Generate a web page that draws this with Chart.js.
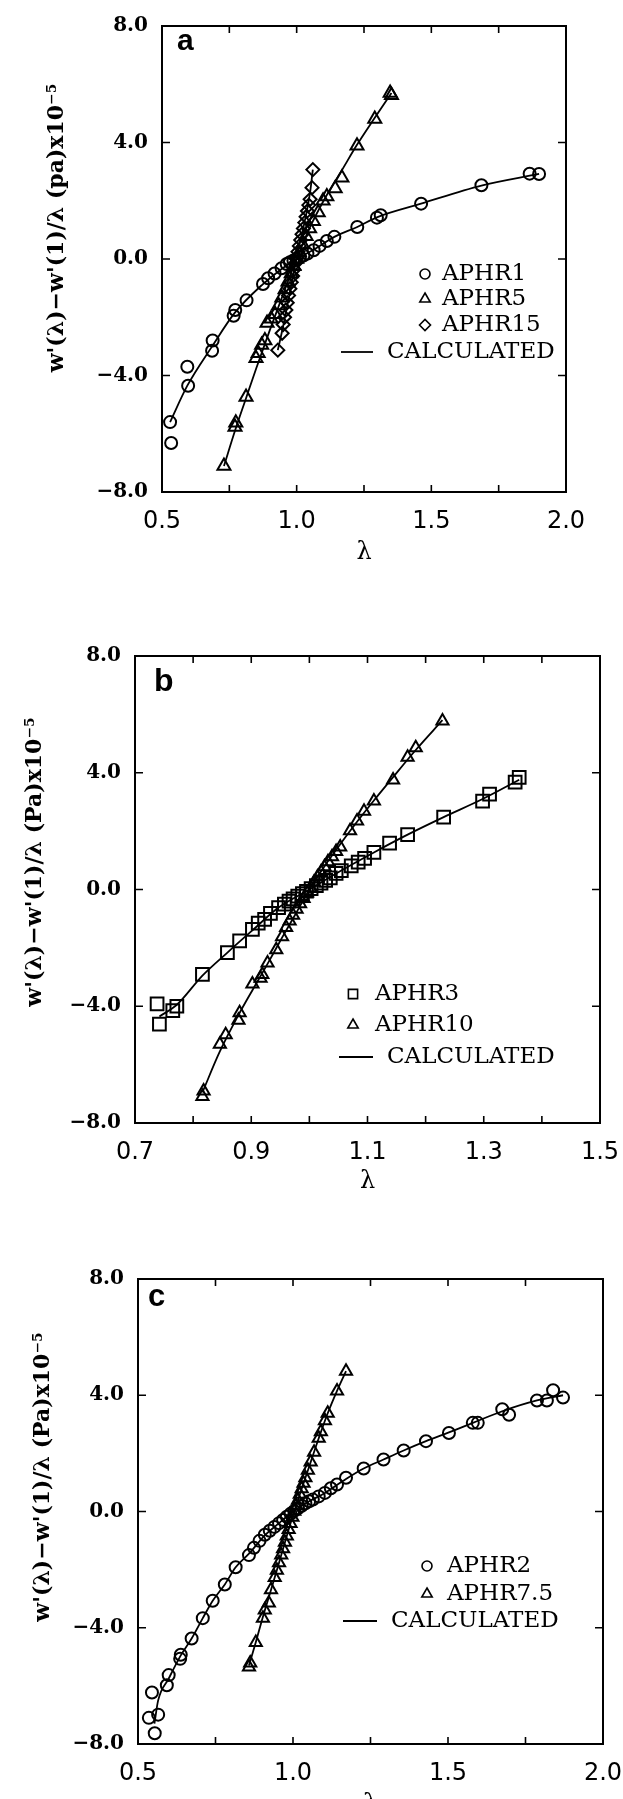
<!DOCTYPE html>
<html>
<head>
<meta charset="utf-8">
<script src="https://cdn.jsdelivr.net/npm/chart.js@4.4.1/dist/chart.umd.min.js"></script>
<style>
html, body { margin: 0; padding: 0; background: #fff; overflow: hidden; }
body { width: 623px; height: 1799px; position: relative; }
canvas { position: absolute; left: 0; }
</style>
</head>
<body>
<canvas id="chartA" width="623" height="600" style="top:0px;width:623px;height:600px"></canvas>
<canvas id="chartB" width="623" height="600" style="top:600px;width:623px;height:600px"></canvas>
<canvas id="chartC" width="623" height="630" style="top:1200px;width:623px;height:630px"></canvas>
<script>
// ---------- data ----------

// shared y axis
const yTickVals = [-8, -4, 0, 4, 8];
const yTickLabels = ["\u22128.0", "\u22124.0", "0.0", "4.0", "8.0"];

// panel a
const xTickValsA = [0.5, 1.0, 1.5, 2.0];
const xTickLabelsA = ["0.5", "1.0", "1.5", "2.0"];

const lamA1 = [0.530,0.534,0.594,0.597,0.686,0.688,0.766,0.772,0.814,0.875,0.894,0.918,0.944,0.963,0.975,0.988,1.000,1.012,1.025,1.040,1.063,1.085,1.112,1.140,1.225,1.298,1.312,1.462,1.686,1.865,1.900];
const wA1   = [-5.60,-6.32,-3.70,-4.35,-3.15,-2.80,-1.95,-1.75,-1.42,-0.86,-0.66,-0.50,-0.32,-0.17,-0.11,-0.05,0.00,0.06,0.12,0.19,0.30,0.45,0.62,0.76,1.10,1.42,1.50,1.90,2.53,2.93,2.92];

const lamA5 = [0.730,0.771,0.774,0.812,0.849,0.857,0.870,0.882,0.890,0.905,0.920,0.933,0.945,0.957,0.968,0.980,0.990,1.000,1.010,1.022,1.035,1.048,1.062,1.080,1.098,1.112,1.143,1.168,1.224,1.290,1.347,1.352];
const wA5   = [-7.11,-5.77,-5.62,-4.74,-3.41,-3.24,-2.95,-2.80,-2.20,-2.05,-1.90,-1.60,-1.33,-1.05,-0.78,-0.50,-0.25,0.00,0.22,0.50,0.78,1.05,1.30,1.60,2.00,2.15,2.42,2.79,3.89,4.81,5.70,5.62];

const lamA15 = [0.930,0.946,0.950,0.955,0.960,0.965,0.970,0.975,0.980,0.985,0.990,0.995,1.000,1.005,1.010,1.015,1.020,1.025,1.030,1.035,1.040,1.045,1.050,1.057,1.060];
const wA15   = [-3.13,-2.55,-2.25,-2.00,-1.75,-1.50,-1.25,-1.02,-0.80,-0.58,-0.36,-0.15,0.05,0.25,0.45,0.65,0.85,1.05,1.25,1.45,1.65,1.85,2.05,2.45,3.07];

const calcLamA1 = [0.530,0.594,0.686,0.770,0.875,0.944,1.000,1.063,1.140,1.225,1.300,1.462,1.686,1.900];
const calcWA1   = [-5.60,-4.35,-3.00,-1.85,-0.86,-0.34,0.00,0.32,0.76,1.10,1.44,1.90,2.52,2.92];
const calcLamA5 = [0.730,0.771,0.812,0.850,0.900,0.950,1.000,1.050,1.100,1.168,1.224,1.290,1.352];
const calcWA5   = [-7.11,-5.90,-4.78,-3.75,-2.45,-1.20,0.00,1.10,2.00,3.05,3.92,4.85,5.70];
const calcLamA15 = [0.930,0.950,1.000,1.050,1.060];
const calcWA15   = [-3.13,-2.30,0.05,2.30,3.07];

// panel b
const xTickValsB = [0.7, 0.9, 1.1, 1.3, 1.5];
const xTickLabelsB = ["0.7", "0.9", "1.1", "1.3", "1.5"];

const lamB3 = [0.738,0.742,0.765,0.772,0.816,0.859,0.880,0.902,0.912,0.923,0.933,0.947,0.957,0.965,0.972,0.980,0.988,0.995,1.003,1.012,1.020,1.028,1.036,1.046,1.055,1.072,1.084,1.095,1.111,1.138,1.169,1.231,1.298,1.310,1.354,1.361];
const wB3   = [-3.92,-4.61,-4.15,-4.00,-2.91,-2.16,-1.76,-1.37,-1.15,-1.02,-0.82,-0.62,-0.50,-0.40,-0.32,-0.23,-0.14,-0.06,0.03,0.13,0.22,0.31,0.40,0.55,0.65,0.81,0.94,1.07,1.27,1.59,1.88,2.48,3.03,3.27,3.68,3.84];

const lamB10 = [0.816,0.818,0.846,0.856,0.878,0.880,0.902,0.916,0.919,0.928,0.943,0.953,0.960,0.966,0.972,0.978,0.984,0.990,0.996,1.002,1.008,1.014,1.020,1.026,1.032,1.039,1.046,1.053,1.070,1.082,1.094,1.111,1.144,1.169,1.183,1.229];
const wB10   = [-7.09,-6.90,-5.30,-4.98,-4.48,-4.22,-3.24,-3.04,-2.91,-2.52,-2.06,-1.62,-1.30,-1.08,-0.88,-0.68,-0.49,-0.31,-0.12,0.06,0.25,0.43,0.60,0.78,0.95,1.12,1.30,1.46,2.01,2.35,2.68,3.03,3.75,4.53,4.86,5.77];

const calcLamB3 = [0.742,0.772,0.816,0.859,0.902,0.947,1.000,1.046,1.111,1.169,1.231,1.298,1.361];
const calcWB3   = [-4.35,-3.95,-2.95,-2.16,-1.40,-0.62,0.00,0.55,1.27,1.88,2.48,3.10,3.76];
const calcLamB10 = [0.816,0.846,0.878,0.902,0.928,0.953,0.978,1.000,1.026,1.053,1.082,1.111,1.144,1.183,1.229];
const calcWB10   = [-6.95,-5.55,-4.30,-3.45,-2.55,-1.65,-0.78,0.00,0.80,1.55,2.32,3.05,3.85,4.78,5.80];

// panel c
const xTickValsC = [0.5, 1.0, 1.5, 2.0];
const xTickLabelsC = ["0.5", "1.0", "1.5", "2.0"];

const lamC2 = [0.535,0.545,0.554,0.565,0.593,0.599,0.636,0.638,0.673,0.709,0.741,0.780,0.815,0.858,0.874,0.892,0.909,0.925,0.940,0.955,0.968,0.980,0.992,1.004,1.016,1.028,1.040,1.052,1.064,1.083,1.103,1.122,1.142,1.171,1.228,1.292,1.357,1.429,1.503,1.580,1.596,1.675,1.697,1.787,1.819,1.839,1.871];
const wC2   = [-7.10,-6.23,-7.63,-6.99,-5.98,-5.63,-5.07,-4.93,-4.37,-3.67,-3.07,-2.51,-1.92,-1.50,-1.25,-1.01,-0.80,-0.66,-0.53,-0.40,-0.29,-0.18,-0.08,0.02,0.11,0.20,0.28,0.35,0.41,0.52,0.64,0.80,0.93,1.16,1.48,1.79,2.10,2.42,2.70,3.05,3.05,3.52,3.33,3.82,3.82,4.17,3.92];

const lamC75 = [0.858,0.862,0.880,0.903,0.909,0.922,0.929,0.941,0.948,0.955,0.962,0.968,0.974,0.980,0.986,0.992,0.998,1.004,1.010,1.016,1.022,1.028,1.034,1.040,1.048,1.057,1.068,1.083,1.090,1.103,1.112,1.142,1.171];
const wC75   = [-5.35,-5.21,-4.51,-3.67,-3.39,-3.15,-2.69,-2.27,-2.02,-1.76,-1.50,-1.28,-1.06,-0.84,-0.62,-0.41,-0.20,0.01,0.20,0.39,0.59,0.78,0.97,1.16,1.42,1.70,2.04,2.52,2.74,3.12,3.38,4.15,4.83];

const calcLamC2 = [0.553,0.565,0.599,0.638,0.673,0.709,0.741,0.780,0.815,0.858,0.909,0.955,1.000,1.052,1.103,1.171,1.228,1.292,1.357,1.429,1.503,1.580,1.675,1.787,1.871];
const calcWC2   = [-7.30,-6.50,-5.75,-4.95,-4.37,-3.67,-3.07,-2.51,-1.92,-1.45,-0.82,-0.40,0.00,0.35,0.64,1.12,1.48,1.79,2.10,2.42,2.72,3.05,3.45,3.82,4.00];
const calcLamC75 = [0.858,0.880,0.903,0.929,0.955,0.980,1.000,1.028,1.057,1.083,1.112,1.142,1.171];
const calcWC75   = [-5.30,-4.50,-3.62,-2.70,-1.76,-0.84,-0.13,0.78,1.70,2.52,3.38,4.15,4.83];

// ---------- helpers ----------

function pts(xs, ys) {
    return xs.map((x, i) => ({ x: x, y: ys[i] }));
}

function tickLabel(vals, labels) {
    return function (v) {
        const i = vals.findIndex(t => Math.abs(t - v) < 1e-6);
        return i >= 0 ? labels[i] : "";
    };
}

function markers(label, xs, ys, style, radius) {
    return {
        label: label,
        data: pts(xs, ys),
        showLine: false,
        pointStyle: style,
        pointRadius: radius,
        pointBorderWidth: 2,
        pointBorderColor: "#000",
        pointBackgroundColor: "rgba(0,0,0,0)",
        order: 1
    };
}

function calcLine(xs, ys) {
    return {
        label: "CALCULATED",
        data: pts(xs, ys),
        showLine: true,
        pointRadius: 0,
        borderColor: "#000",
        borderWidth: 1.8,
        cubicInterpolationMode: "monotone",
        isCalc: true,
        order: 2
    };
}

// frame with inward ticks on all sides, y title, panel letter and legend
const framePlugin = {
    id: "frame",
    afterDatasetsDraw(chart, args, o) {
        const ctx = chart.ctx;
        const a = chart.chartArea;
        const xs = chart.scales.x;
        const ys = chart.scales.y;
        ctx.save();
        ctx.strokeStyle = "#000";
        ctx.lineWidth = 2;
        ctx.strokeRect(a.left, a.top, a.right - a.left, a.bottom - a.top);
        ctx.lineWidth = 1.6;
        ctx.beginPath();
        xs.ticks.forEach(t => {
            const p = xs.getPixelForValue(t.value);
            ctx.moveTo(p, a.bottom); ctx.lineTo(p, a.bottom - 7);
            ctx.moveTo(p, a.top); ctx.lineTo(p, a.top + 7);
        });
        ys.ticks.forEach(t => {
            const p = ys.getPixelForValue(t.value);
            ctx.moveTo(a.left, p); ctx.lineTo(a.left + 8, p);
            ctx.moveTo(a.right, p); ctx.lineTo(a.right - 8, p);
        });
        ctx.stroke();

        // y axis title (rotated)
        ctx.save();
        ctx.fillStyle = "#000";
        ctx.font = "bold 22px 'DejaVu Serif'";
        ctx.textAlign = "center";
        ctx.textBaseline = "middle";
        ctx.translate(o.yTitleX, o.yTitleY);
        ctx.rotate(-Math.PI / 2);
        ctx.fillText(o.yTitle, 0, 0);
        ctx.restore();

        // panel letter
        ctx.fillStyle = "#000";
        ctx.font = "bold " + o.letterSize + "px 'Liberation Sans'";
        ctx.textBaseline = "middle";
        ctx.textAlign = "left";
        ctx.fillText(o.letter, a.left + o.letterDx, a.top + o.letterDy);

        // legend
        const lg = o.legend;
        ctx.font = "23px 'DejaVu Serif'";
        let row = 0;
        chart.data.datasets.forEach(ds => {
            if (ds.isCalc) return;
            const y = lg.rows[row++];
            ctx.strokeStyle = "#000";
            ctx.fillStyle = "rgba(0,0,0,0)";
            ctx.lineWidth = 1.6;
            Chart.helpers.drawPoint(ctx, {
                pointStyle: ds.pointStyle,
                radius: lg.symRadius[ds.pointStyle] || 4.5,
                borderWidth: 1.6,
                rotation: 0
            }, lg.symX, y);
            ctx.fillStyle = "#000";
            ctx.fillText(ds.label, lg.textX, y);
        });
        const y = lg.rows[row];
        ctx.beginPath();
        ctx.lineWidth = 1.8;
        ctx.moveTo(lg.lineX1, y); ctx.lineTo(lg.lineX2, y);
        ctx.stroke();
        ctx.fillText("CALCULATED", lg.calcTextX, y);
        ctx.restore();
    }
};

function makePanel(id, cfg) {
    const canvas = document.getElementById(id);
    const W = canvas.width, H = canvas.height;
    const ar = cfg.area;
    return new Chart(canvas.getContext("2d"), {
        type: "scatter",
        data: { datasets: cfg.datasets },
        options: {
            responsive: false,
            animation: false,
            devicePixelRatio: 1,
            layout: { padding: { left: 0, top: ar.t, right: W - ar.r, bottom: 0 } },
            plugins: {
                legend: { display: false },
                tooltip: { enabled: false },
                frame: {
                    letter: cfg.letter, letterSize: cfg.letterSize,
                    letterDx: cfg.letterDx, letterDy: cfg.letterDy,
                    yTitle: cfg.yTitle, yTitleX: cfg.yTitleX, yTitleY: cfg.yTitleY,
                    legend: cfg.legend
                }
            },
            scales: {
                x: {
                    type: "linear",
                    min: cfg.xMin, max: cfg.xMax,
                    grid: { display: false, drawTicks: true, tickLength: 15 },
                    border: { display: false },
                    ticks: {
                        stepSize: cfg.xStep,
                        autoSkip: false,
                        maxRotation: 0,
                        padding: 0,
                        color: "#000",
                        font: { family: "'DejaVu Sans'", size: 24 },
                        callback: tickLabel(cfg.xVals, cfg.xLabels)
                    },
                    title: {
                        display: true,
                        text: "\u03bb",
                        color: "#000",
                        font: { family: "'DejaVu Serif'", size: 24 },
                        padding: { top: 0, bottom: H - cfg.lambdaY - 14.4 }
                    },
                    afterFit: s => { s.height = H - ar.b; }
                },
                y: {
                    type: "linear",
                    min: -8, max: 8,
                    grid: { display: false, drawTicks: true, tickLength: 14 },
                    border: { display: false },
                    ticks: {
                        stepSize: 4,
                        padding: 0,
                        color: "#000",
                        font: { family: "'DejaVu Serif'", size: 20, weight: "bold" },
                        callback: tickLabel(yTickVals, yTickLabels)
                    },
                    afterFit: s => { s.width = ar.l; }
                }
            }
        },
        plugins: [framePlugin]
    });
}

const symSizes = { circle: 5, triangle: 6, rectRot: 5.5, rect: 6.5 };

makePanel("chartA", {
    area: { l: 162, r: 566, t: 26, b: 492 },
    xMin: 0.5, xMax: 2.0, xStep: 0.25,
    xVals: xTickValsA, xLabels: xTickLabelsA,
    lambdaY: 553, yTitleX: 57, yTitleY: 228,
    yTitle: "w'(\u03bb)\u2212w'(1)/\u03bb (pa)x10\u207b\u2075",
    letter: "a", letterSize: 30, letterDx: 15, letterDy: 16,
    legend: { symX: 425, textX: 442, lineX1: 341, lineX2: 373, calcTextX: 387,
              rows: [274, 299, 325, 352], symRadius: symSizes },
    datasets: [
        calcLine(calcLamA1, calcWA1),
        calcLine(calcLamA5, calcWA5),
        calcLine(calcLamA15, calcWA15),
        markers("APHR1", lamA1, wA1, "circle", 6),
        markers("APHR5", lamA5, wA5, "triangle", 7.5),
        markers("APHR15", lamA15, wA15, "rectRot", 6.5)
    ]
});

makePanel("chartB", {
    area: { l: 135, r: 600, t: 56, b: 523 },
    xMin: 0.7, xMax: 1.5, xStep: 0.1,
    xVals: xTickValsB, xLabels: xTickLabelsB,
    lambdaY: 582, yTitleX: 35, yTitleY: 262,
    yTitle: "w'(\u03bb)\u2212w'(1)/\u03bb (Pa)x10\u207b\u2075",
    letter: "b", letterSize: 32, letterDx: 19, letterDy: 26,
    legend: { symX: 353, textX: 375, lineX1: 339, lineX2: 373, calcTextX: 387,
              rows: [394, 425, 457], symRadius: symSizes },
    datasets: [
        calcLine(calcLamB3, calcWB3),
        calcLine(calcLamB10, calcWB10),
        markers("APHR3", lamB3, wB3, "rect", 9),
        markers("APHR10", lamB10, wB10, "triangle", 7)
    ]
});

makePanel("chartC", {
    area: { l: 138, r: 603, t: 79, b: 544 },
    xMin: 0.5, xMax: 2.0, xStep: 0.25,
    xVals: xTickValsC, xLabels: xTickLabelsC,
    lambdaY: 605, yTitleX: 43, yTitleY: 277,
    yTitle: "w'(\u03bb)\u2212w'(1)/\u03bb (Pa)x10\u207b\u2075",
    letter: "c", letterSize: 31, letterDx: 10, letterDy: 18,
    legend: { symX: 427, textX: 447, lineX1: 343, lineX2: 377, calcTextX: 391,
              rows: [366, 394, 421], symRadius: symSizes },
    datasets: [
        calcLine(calcLamC2, calcWC2),
        calcLine(calcLamC75, calcWC75),
        markers("APHR2", lamC2, wC2, "circle", 6),
        markers("APHR7.5", lamC75, wC75, "triangle", 7)
    ]
});
</script>
</body>
</html>
